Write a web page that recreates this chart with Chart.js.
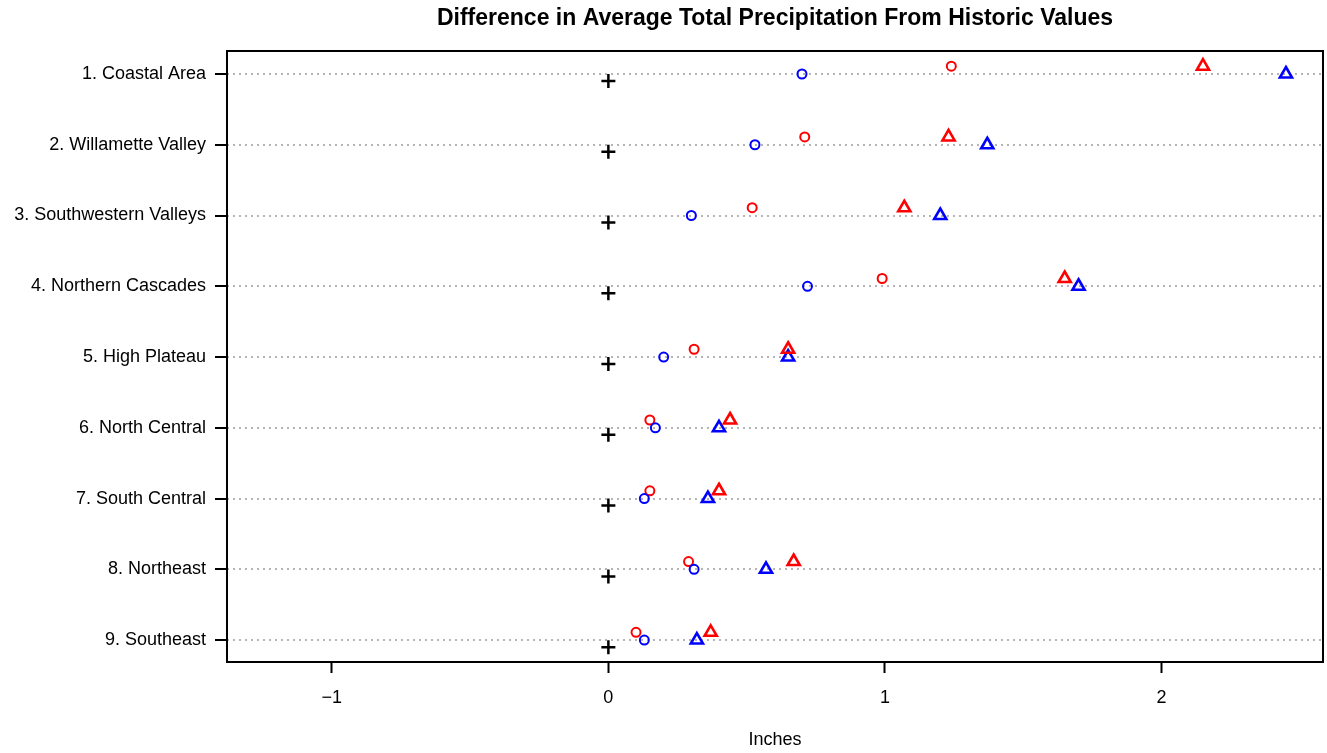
<!DOCTYPE html>
<html>
<head>
<meta charset="utf-8">
<script src="https://cdn.jsdelivr.net/npm/chart.js@4.4.1/dist/chart.umd.min.js"></script>
<style>
  body { margin: 0; background: #fff; }
  #wrap { width: 1327px; height: 753px; }
</style>
</head>
<body>
<div id="wrap"><canvas id="chart" width="1327" height="753"></canvas></div>
<script>
// regions, top to bottom
const regions = [
  "1. Coastal Area",
  "2. Willamette Valley",
  "3. Southwestern Valleys",
  "4. Northern Cascades",
  "5. High Plateau",
  "6. North Central",
  "7. South Central",
  "8. Northeast",
  "9. Southeast"
]

// difference from historic values (inches)
const baseline    = [0, 0, 0, 0, 0, 0, 0, 0, 0]
const blueCircles = [0.70, 0.53, 0.30, 0.72, 0.20, 0.17, 0.13, 0.31, 0.13]
const redCircles  = [1.24, 0.71, 0.52, 0.99, 0.31, 0.15, 0.15, 0.29, 0.10]
const redTris     = [2.15, 1.23, 1.07, 1.65, 0.65, 0.44, 0.40, 0.67, 0.37]
const blueTris    = [2.45, 1.37, 1.20, 1.70, 0.65, 0.40, 0.36, 0.57, 0.32]

const xTicks = [-1, 0, 1, 2]

const TITLE = "Difference in Average Total Precipitation From Historic Values"

// small vertical nudges (row units) so overlapping marks stay visible
const UP = -0.11
const DOWN = 0.1

const pts = (vals, nudge) => vals.map((v, i) => ({ x: v, y: i + 1 + nudge }))

const FONT = "'Liberation Sans', Arial, sans-serif"

// frame round the plot + title centred over the plot area (like R's main=)
const boxPlugin = {
  id: "box",
  afterDraw(chart) {
    const { ctx, chartArea: a } = chart
    ctx.save()
    ctx.strokeStyle = "#000"
    ctx.lineWidth = 2
    ctx.strokeRect(a.left, a.top, a.right - a.left, a.bottom - a.top)
    ctx.fillStyle = "#000"
    ctx.font = "bold 23px " + FONT
    ctx.textAlign = "center"
    ctx.textBaseline = "middle"
    ctx.fillText(TITLE, (a.left + a.right) / 2, 19)
    ctx.restore()
  }
}

new Chart(document.getElementById("chart"), {
  type: "scatter",
  data: {
    datasets: [
      {
        label: "baseline",
        data: pts(baseline, DOWN),
        pointStyle: "cross",
        pointRadius: 7,
        borderColor: "#000",
        borderWidth: 2.5,
        order: 5
      },
      {
        label: "blue circle",
        data: pts(blueCircles, 0),
        pointStyle: "circle",
        pointRadius: 4.5,
        borderColor: "#0000ff",
        backgroundColor: "transparent",
        borderWidth: 2,
        order: 3
      },
      {
        label: "red circle",
        data: pts(redCircles, UP),
        pointStyle: "circle",
        pointRadius: 4.5,
        borderColor: "#ff0000",
        backgroundColor: "transparent",
        borderWidth: 2,
        order: 4
      },
      {
        label: "blue triangle",
        data: pts(blueTris, 0),
        pointStyle: "triangle",
        pointRadius: 7,
        borderColor: "#0000ff",
        backgroundColor: "transparent",
        borderWidth: 2.6,
        order: 2
      },
      {
        label: "red triangle",
        data: pts(redTris, UP),
        pointStyle: "triangle",
        pointRadius: 7,
        borderColor: "#ff0000",
        backgroundColor: "transparent",
        borderWidth: 2.6,
        order: 1
      }
    ]
  },
  options: {
    responsive: false,
    animation: false,
    devicePixelRatio: 1,
    layout: { autoPadding: false, padding: { left: 0, right: 4, top: 51, bottom: 0 } },
    plugins: {
      legend: { display: false },
      tooltip: { enabled: false },
      title: { display: false }
    },
    scales: {
      x: {
        type: "linear",
        min: -1.379,
        max: 2.584,
        afterBuildTicks: s => { s.ticks = xTicks.map(v => ({ value: v })) },
        afterFit: s => {
          s.height = 91
          s.paddingLeft = 0
          s.paddingRight = 0
        },
        grid: {
          drawOnChartArea: false,
          tickLength: 11,
          tickColor: "#000",
          tickWidth: 2
        },
        border: { display: false },
        ticks: {
          color: "#000",
          font: { family: FONT, size: 18 },
          padding: 14,
          maxRotation: 0,
          callback: v => (v < 0 ? "\u2212" + Math.abs(v) : String(v))
        },
        title: {
          display: true,
          text: "Inches",
          color: "#000",
          font: { family: FONT, size: 18 },
          padding: { top: 0, bottom: 2 }
        }
      },
      y: {
        type: "linear",
        reverse: true,
        min: 0.675,
        max: 9.31,
        afterBuildTicks: s => { s.ticks = regions.map((_, i) => ({ value: i + 1 })) },
        afterFit: s => { s.width = 227 },
        grid: {
          color: "#b4b4b4",
          lineWidth: 2,
          tickLength: 12,
          tickColor: "#000",
          tickWidth: 2,
          tickBorderDash: []
        },
        border: { display: false, dash: [2, 4] },
        ticks: {
          color: "#000",
          font: { family: FONT, size: 18 },
          padding: 9,
          callback: v => regions[Math.round(v) - 1] || ""
        }
      }
    }
  },
  plugins: [boxPlugin]
})
</script>
</body>
</html>
